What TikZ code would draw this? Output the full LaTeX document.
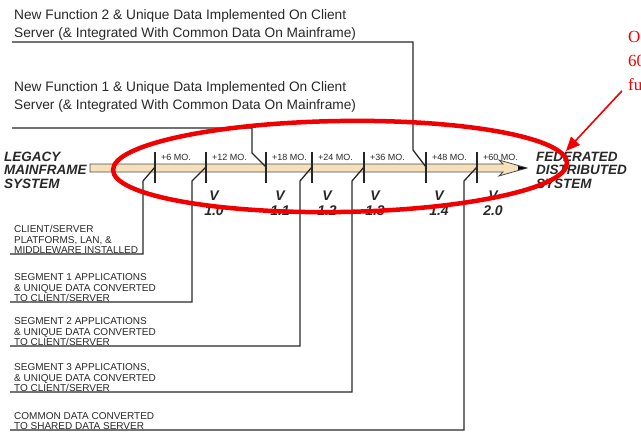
\documentclass[tikz,border=0pt]{standalone}
\usepackage{fontspec}
\setmainfont{Liberation Sans}
\newfontfamily\notefont{Liberation Serif}
\usetikzlibrary{arrows.meta,positioning}
\definecolor{shafttan}{RGB}{246,224,188}
\definecolor{inkgray}{RGB}{40,40,40}
\definecolor{markred}{RGB}{240,0,0}

\begin{document}
\begin{tikzpicture}[
  x=1pt, y=-1pt,
  lbl/.style={anchor=south west, align=left, inner xsep=4pt, inner ysep=0pt,
              text depth=0pt, font=\fontsize{10}{10.5}\selectfont, text=inkgray},
  fnlbl/.style={anchor=south west, align=left, inner xsep=2pt, inner ysep=0pt,
                text depth=4pt, font=\fontsize{13.7}{18}\selectfont, text=inkgray},
  molbl/.style={anchor=west, inner sep=0pt, font=\fontsize{9}{9}\selectfont, text=inkgray},
  vlbl/.style={align=center, inner sep=0pt,
               font=\fontsize{14}{15}\selectfont\bfseries\itshape, text=inkgray},
  endlbl/.style={anchor=west, align=left, inner sep=0pt,
                 font=\fontsize{13.5}{13.5}\selectfont\bfseries\itshape, text=inkgray},
  conn/.style={draw=inkgray, line width=1.3pt},
  tickmark/.style={draw=black!85, line width=1.2pt},
  >=Stealth
]
\useasboundingbox (0,0) rectangle (641,437);

%% --- timeline arrow ---
\draw[draw=black!70, line width=0.8pt, fill=shafttan]
  (90,164) -- (503,164) -- (499,160) -- (527,168) -- (499,176)
  -- (503,172) -- (90,172) -- cycle;
\fill[black] (518,166) -- (527,168) -- (518,170) -- cycle;

\node[endlbl] (legacy) at (4,170) {LEGACY\\MAINFRAME\\SYSTEM};
\node[endlbl] (federated) at (536,170) {FEDERATED\\DISTRIBUTED\\SYSTEM};

%% --- ticks and month labels ---
\foreach \x/\n/\mo in {155/t0/+6, 206/t1/+12, 266/t2/+18, 312/t3/+24,
                       364/t4/+36, 426/t5/+48, 477/t6/+60} {
  \coordinate (\n) at (\x,167);
  \draw[tickmark] (\x,152) -- (\x,183);
  \node[molbl] (mo\n) at (\x+6,157) {\mo\ MO.};
}

%% --- versions ---
\node[vlbl] (v10) at (214,203) {V\\1.0};
\node[vlbl] (v11) at (280,203) {V\\1.1};
\node[vlbl] (v12) at (327,203) {V\\1.2};
\node[vlbl] (v13) at (375,203) {V\\1.3};
\node[vlbl] (v14) at (439,203) {V\\1.4};
\node[vlbl] (v20) at (493,203) {V\\2.0};

%% --- top labels ---
\node[fnlbl] (fn2) at (12,42)
  {New Function 2 \& Unique Data Implemented On Client\\Server (\& Integrated With Common Data On Mainframe)};
\coordinate (f1) at (12,128);
\node[fnlbl, above right=14pt and 0pt of f1] (fn1)
  {New Function 1 \& Unique Data Implemented On Client\\Server (\& Integrated With Common Data On Mainframe)};
\coordinate (c1) at (413,150);
\coordinate (c0) at (252,153);
\draw[conn] (fn2.south west) -| (c1) -- (t5);
\draw[conn] (f1) -| (c0) -- (t2);

%% --- bottom labels ---
\node[lbl] (cs) at (10,254) {CLIENT/SERVER\\PLATFORMS, LAN, \&\\MIDDLEWARE INSTALLED};
\node[lbl] (seg1) at (10,302) {SEGMENT 1 APPLICATIONS\\\& UNIQUE DATA CONVERTED\\TO CLIENT/SERVER};
\node[lbl] (seg2) at (10,346) {SEGMENT 2 APPLICATIONS\\\& UNIQUE DATA CONVERTED\\TO CLIENT/SERVER};
\node[lbl] (seg3) at (10,392) {SEGMENT 3 APPLICATIONS,\\\& UNIQUE DATA CONVERTED\\TO CLIENT/SERVER};
\node[lbl] (common) at (10,430) {COMMON DATA CONVERTED\\TO SHARED DATA SERVER};

\coordinate (b0) at (143,181);
\coordinate (b1) at (192,181);
\coordinate (b2) at (300,181);
\coordinate (b3) at (352,181);
\coordinate (b4) at (464,181);
\draw[conn] (cs.south west) -| (b0) -- (t0);
\draw[conn] (seg1.south west) -| (b1) -- (t1);
\draw[conn] (seg2.south west) -| (b2) -- (t3);
\draw[conn] (seg3.south west) -| (b3) -- (t4);
\draw[conn] (common.south west) -| (b4) -- (t6);

%% --- red markup ---
\draw[markred, line width=4.5pt, rotate around={0.9:(340,166.5)}]
  (340,166.5) ellipse [x radius=227, y radius=45.5];
\node[anchor=north west, align=left, inner sep=0pt, text=markred,
      font=\notefont\fontsize{17}{24}\selectfont] (note) at (628,31) {O\\60\\fu};
\coordinate (aim) at (566,151);
\draw[markred, line width=1.6pt, -{Triangle[length=14pt,width=12pt]}]
  ([xshift=-6pt]note.south west) -- (aim);
\end{tikzpicture}
\end{document}
